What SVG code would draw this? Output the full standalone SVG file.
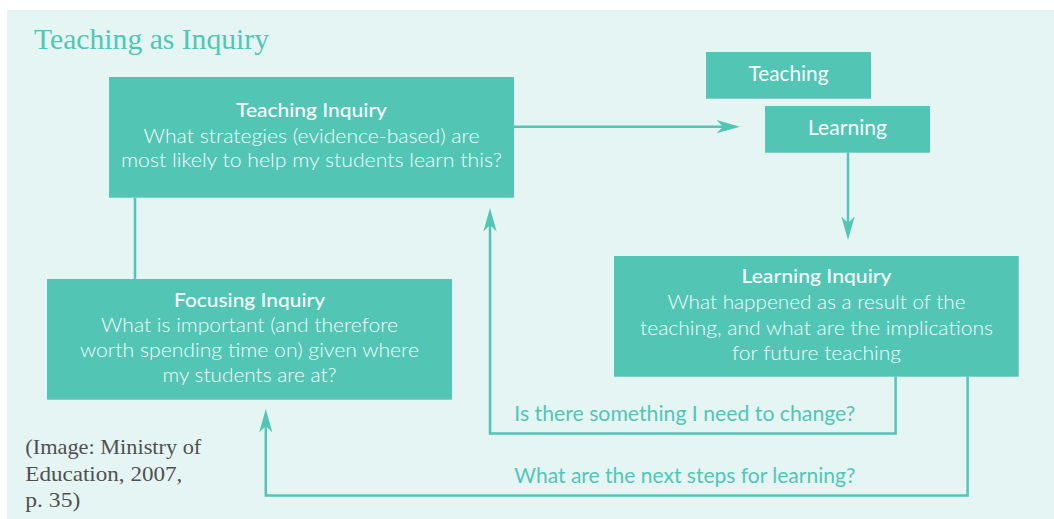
<svg xmlns="http://www.w3.org/2000/svg" width="1054" height="519" viewBox="0 0 1054 519">
  <style>
    .panel { fill: #E5F5F3; }
    .box { fill: #52C5B5; }
    .wire { fill: none; stroke: #52C5B5; stroke-width: 2.5; }
    .head { fill: #52C5B5; }
    .t-title { font-family: "Liberation Serif", "DejaVu Serif", serif; font-size: 29px; fill: #52C5B5; }
    .t-cite { font-family: "Liberation Serif", "DejaVu Serif", serif; font-size: 21px; fill: #505050; }
    .t-head { font-family: Lato, "Open Sans", "Liberation Sans", sans-serif; font-size: 20px; font-weight: 500; fill: #FAFFFE; text-anchor: middle; }
    .t-body { font-family: Lato, "Open Sans", "Liberation Sans", sans-serif; font-size: 19px; font-weight: 300; fill: #F4FFFD; text-anchor: middle; }
    .t-tag { font-family: Lato, "Open Sans", "Liberation Sans", sans-serif; font-size: 22px; font-weight: 400; fill: #FAFFFE; text-anchor: middle; }
    .t-loop { font-family: Lato, "Open Sans", "Liberation Sans", sans-serif; font-size: 21px; font-weight: 400; fill: #52C5B5; }
  </style>
  <defs>
    <!-- notched arrowhead; the reference point is the notch, tip lies 17px ahead -->
    <marker id="arrow" markerUnits="userSpaceOnUse" viewBox="-7 -8 25 16" refX="0" refY="0" markerWidth="25" markerHeight="16" orient="auto">
      <path class="head" d="M17,0 L-6.5,-6.6 L0,0 L-6.5,6.6 Z"/>
    </marker>
  </defs>

  <rect class="panel" x="7" y="10" width="1047" height="509"/>

  <text class="t-title" x="34" y="49" textLength="235" lengthAdjust="spacingAndGlyphs">Teaching as Inquiry</text>

  <g id="connectors">
    <path class="wire" d="M514,126.7 H723" marker-end="url(#arrow)"/>
    <path class="wire" d="M848,152.7 V223" marker-end="url(#arrow)"/>
    <path class="wire" d="M895.6,376.7 V433.4 H490 V225" marker-end="url(#arrow)"/>
    <path class="wire" d="M967.6,376.7 V495.6 H265.8 V426" marker-end="url(#arrow)"/>
    <path class="wire" d="M135,197.7 V279"/>
  </g>

  <g id="teaching-inquiry">
    <rect class="box" x="109" y="77" width="405" height="120.7"/>
    <text class="t-head" x="311.5" y="116.7" textLength="151" lengthAdjust="spacingAndGlyphs">Teaching Inquiry</text>
    <text class="t-body" x="311.5" y="142.7" textLength="336" lengthAdjust="spacingAndGlyphs">What strategies (evidence-based) are</text>
    <text class="t-body" x="311.5" y="167.3" textLength="381" lengthAdjust="spacingAndGlyphs">most likely to help my students learn this?</text>
  </g>

  <g id="teaching">
    <rect class="box" x="706" y="52" width="165" height="46.7"/>
    <text class="t-tag" x="788.5" y="80.7" textLength="80" lengthAdjust="spacingAndGlyphs">Teaching</text>
  </g>

  <g id="learning">
    <rect class="box" x="765" y="106" width="165" height="46.7"/>
    <text class="t-tag" x="847.5" y="135" textLength="79" lengthAdjust="spacingAndGlyphs">Learning</text>
  </g>

  <g id="learning-inquiry">
    <rect class="box" x="614" y="256" width="404.7" height="120.7"/>
    <text class="t-head" x="816.5" y="283.3" textLength="150" lengthAdjust="spacingAndGlyphs">Learning Inquiry</text>
    <text class="t-body" x="816.5" y="309.3" textLength="298" lengthAdjust="spacingAndGlyphs">What happened as a result of the</text>
    <text class="t-body" x="816.5" y="335" textLength="353" lengthAdjust="spacingAndGlyphs">teaching, and what are the implications</text>
    <text class="t-body" x="816.5" y="360" textLength="169" lengthAdjust="spacingAndGlyphs">for future teaching</text>
  </g>

  <g id="focusing-inquiry">
    <rect class="box" x="47" y="279" width="405" height="120.7"/>
    <text class="t-head" x="249.5" y="306.7" textLength="151" lengthAdjust="spacingAndGlyphs">Focusing Inquiry</text>
    <text class="t-body" x="249.5" y="332.3" textLength="297" lengthAdjust="spacingAndGlyphs">What is important (and therefore</text>
    <text class="t-body" x="249.5" y="357.3" textLength="339" lengthAdjust="spacingAndGlyphs">worth spending time on) given where</text>
    <text class="t-body" x="249.5" y="382.3" textLength="174" lengthAdjust="spacingAndGlyphs">my students are at?</text>
  </g>

  <g id="loop-labels">
    <text class="t-loop" x="514.3" y="421" textLength="341" lengthAdjust="spacingAndGlyphs">Is there something I need to change?</text>
    <text class="t-loop" x="514.3" y="483.3" textLength="341" lengthAdjust="spacingAndGlyphs">What are the next steps for learning?</text>
  </g>

  <g id="citation">
    <text class="t-cite" x="25.3" y="454" textLength="176" lengthAdjust="spacingAndGlyphs">(Image: Ministry of</text>
    <text class="t-cite" x="25.3" y="481" textLength="157" lengthAdjust="spacingAndGlyphs">Education, 2007,</text>
    <text class="t-cite" x="25.3" y="507" textLength="55" lengthAdjust="spacingAndGlyphs">p. 35)</text>
  </g>
</svg>
